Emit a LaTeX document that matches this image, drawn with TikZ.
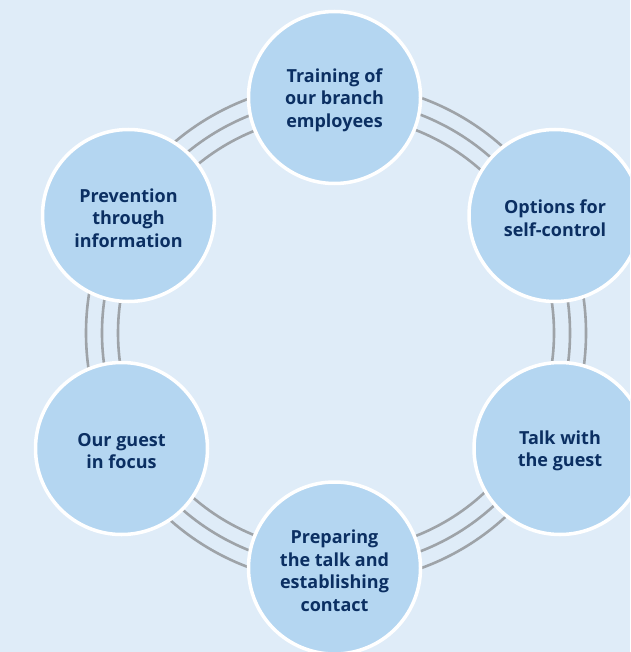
\documentclass[tikz,border=0pt]{standalone}
\usepackage{fontspec}
\setmainfont{Open Sans}
\definecolor{bgc}{HTML}{DFECF8}
\definecolor{fillc}{HTML}{B4D6F1}
\definecolor{txtc}{HTML}{0B2F62}
\definecolor{ringc}{HTML}{9EA3A8}
\tikzset{
  stage/.style={circle, minimum size=172pt, inner sep=0pt, fill=fillc, draw=white,
    line width=3.5pt},
  lbl/.style={align=center, text=txtc, yshift=-2.5pt, inner sep=0pt,
    font=\fontsize{18}{22.5}\selectfont\bfseries},
  ring/.style={draw=ringc, line width=2.6pt}
}
\begin{document}
\begin{tikzpicture}[x=1pt,y=-1pt]
\fill[bgc] (0,0) rectangle (630,652);
\useasboundingbox (0,0) rectangle (630,652);
\clip (0,0) rectangle (630,652);
\coordinate (c) at (336,333);
\draw[ring] (c) circle[radius=218];
\draw[ring] (c) circle[radius=234];
\draw[ring] (c) circle[radius=250];
\node[stage, label={[lbl]center:Training of\\our branch\\employees}] (train) at (334.5,97.5) {};
\node[stage, label={[lbl]center:Options for\\self-control}] (opt) at (555,215.5) {};
\node[stage, label={[lbl]center:Talk with\\the guest}] (talk) at (560,448.5) {};
\node[stage, label={[lbl]center:Preparing\\the talk and\\establishing\\contact}] (prep) at (334.5,568) {};
\node[stage, label={[lbl]center:Our guest\\in focus}] (guest) at (121.5,448.5) {};
\node[stage, label={[lbl]center:Prevention\\through\\information}] (prev) at (128.5,215.5) {};
\end{tikzpicture}
\end{document}
